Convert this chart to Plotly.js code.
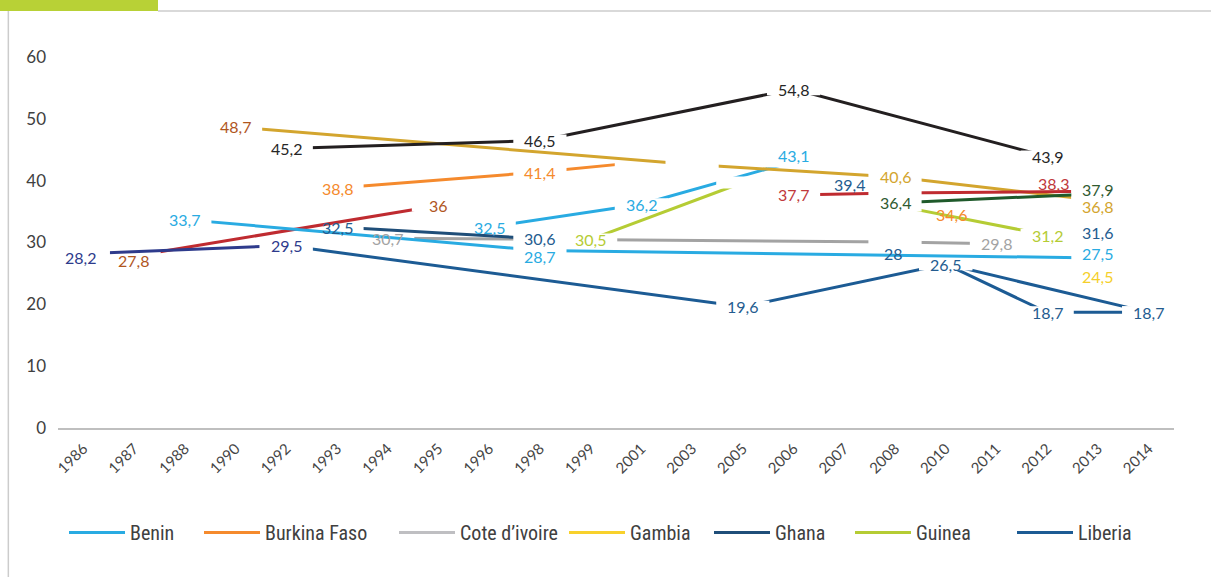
<!DOCTYPE html>
<html>
<head>
<meta charset="utf-8">
<script src="https://cdn.plot.ly/plotly-3.0.1.min.js"></script>
<style>
  html, body { margin: 0; padding: 0; background: #ffffff; }
  #chart { width: 1211px; height: 577px; }
</style>
</head>
<body>
<div id="chart"></div>
<script>
// ---------- DATA ----------
const years = ['1986','1987','1988','1990','1992','1993','1994','1995','1996','1998','1999',
               '2001','2003','2005','2006','2007','2008','2010','2011','2012','2013','2014'];
const yTicks = [0, 10, 20, 30, 40, 50, 60];

// each series: [year, value] pairs
const coteDivoire  = [['1994', 30.7], ['2008', 30.1], ['2011', 29.8]];
const otherBlue    = [['1996', 32.5], ['2001', 36.2], ['2006', 43.1]];
const ghana        = [['1993', 32.5], ['1998', 30.6]];
const guineaA      = [['1999', 30.5], ['2005', 39.7]];
const guineaB      = [['2008', 36.0], ['2012', 31.2]];
const otherRedA    = [['1987', 27.8], ['1995', 36]];
const otherPurple  = [['1986', 28.2], ['1992', 29.5]];
const liberia      = [['1992', 29.5], ['2005', 19.6], ['2010', 26.5], ['2014', 18.7]];
const liberiaB     = [['2010', 26.5], ['2012', 18.7], ['2014', 18.7]];
const benin        = [['1988', 33.7], ['1998', 28.7], ['2013', 27.5]];
const burkinaFaso  = [['1993', 38.8], ['1998', 41.4], ['2001', 43.0]];
const otherGold    = [['1990', 48.7], ['2003', 42.6], ['2008', 40.6], ['2013', 36.8]];
const otherBlack   = [['1992', 45.2], ['1998', 46.5], ['2006', 54.8], ['2012', 43.9]];
const otherRedB    = [['2006', 37.7], ['2008', 38.0], ['2013', 38.3]];
const otherGreen   = [['2008', 36.4], ['2013', 37.9]];
const gambia       = [['2013', 24.5]];
const ghanaPoints  = [['2007', 39.4], ['2008', 28], ['2013', 31.6]];
const burkinaPoint = [['2010', 34.6]];

// points drawn without a value label
const unlabeled = [['guineaA','2005'], ['guineaB','2008'], ['burkinaFaso','2001'], ['otherGold','2003'],
                   ['otherRedB','2008'], ['coteDivoire','2008'], ['liberia','1992'],
                   ['liberiaB','2010'], ['liberiaB','2014']];

// ---------- STYLES ----------
const C = {
  lightBlue: '#29abe2', orange: '#f58a2d', gray: '#a3a3a3', grayLegend: '#bfbfc2',
  yellow: '#f8d12c', ghana: '#1f4e79', guinea: '#b5cc34', liberia: '#1c5b94',
  navyLabel: '#245c8f', purple: '#2e3b8c', red: '#bf2b30', brown: '#b0561e',
  gold: '#d3a52e', black: '#231f20', green: '#1f5a2b', redLabel: '#c0393b', greenLabel: '#2f5a30'
};

// drawing order matters: white point masks hide earlier lines
const series = [
  {key:'coteDivoire', data:coteDivoire, line:C.gray,      label:C.gray},
  {key:'otherBlue',   data:otherBlue,   line:C.lightBlue, label:C.lightBlue},
  {key:'ghana',       data:ghana,       line:C.ghana,     label:C.navyLabel},
  {key:'guineaA',     data:guineaA,     line:C.guinea,    label:C.guinea},
  {key:'guineaB',     data:guineaB,     line:C.guinea,    label:C.guinea},
  {key:'otherRedA',   data:otherRedA,   line:C.red,       label:C.brown},
  {key:'otherPurple', data:otherPurple, line:C.purple,    label:C.purple},
  {key:'liberia',     data:liberia,     line:C.liberia,   label:C.navyLabel},
  {key:'liberiaB',    data:liberiaB,    line:C.liberia,   label:C.navyLabel},
  {key:'benin',       data:benin,       line:C.lightBlue, label:C.lightBlue},
  {key:'burkinaFaso', data:burkinaFaso, line:C.orange,    label:C.orange},
  {key:'otherGold',   data:otherGold,   line:C.gold,      label:C.gold},
  {key:'otherBlack',  data:otherBlack,  line:C.black,     label:'#262626'},
  {key:'otherRedB',   data:otherRedB,   line:C.red,       label:C.redLabel},
  {key:'otherGreen',  data:otherGreen,  line:C.green,     label:C.greenLabel},
  {key:'gambia',      data:gambia,      line:null,        label:'#f5cf2a'},
  {key:'ghanaPoints', data:ghanaPoints, line:null,        label:C.navyLabel},
  {key:'burkinaPoint',data:burkinaPoint,line:null,        label:C.orange}
];

// label colour / offset exceptions (styling only)
const labelColor = {'otherGold|1990': C.brown};
const labelShift = {
  'otherPurple|1986': [-3, -4], 'otherRedA|1987': [-1, -4], 'benin|1998': [0, -6],
  'otherBlue|2006': [0, 6], 'burkinaPoint|2010': [6, 0], 'otherRedB|2013': [-44, 8],
  'benin|2013': [0, 4], 'otherGold|2013': [0, -6], 'otherGreen|2013': [0, 4],
  'ghanaPoints|2007': [5, 0], 'ghanaPoints|2008': [-2, 1]
};

const legendItems = [
  ['Benin', C.lightBlue], ['Burkina Faso', C.orange], ['Cote d\u2019ivoire', C.grayLegend],
  ['Gambia', C.yellow], ['Ghana', C.ghana], ['Guinea', C.guinea], ['Liberia', C.liberia]
];
// pixel left edge of each legend entry (layout only)
const legendLeft = [64, 199, 394, 564, 709, 850, 1012];

// ---------- BUILD ----------
const traces = [];
const annotations = [];
const fmt = v => String(v).replace('.', ',');
const isUnlabeled = (k, y) => unlabeled.some(p => p[0] === k && p[1] === y);
const idx = y => years.indexOf(y);

series.forEach(s => {
  const xs = s.data.map(p => p[0]);
  const ys = s.data.map(p => p[1]);
  if (s.line) {
    traces.push({
      type: 'scatter', mode: 'lines', x: xs, y: ys, showlegend: false, hoverinfo: 'skip',
      line: {color: s.line, width: 3}
    });
    traces.push({
      type: 'scatter', mode: 'markers', x: xs, y: ys, showlegend: false, hoverinfo: 'skip',
      marker: {symbol: 'line-ew', size: 38, color: '#ffffff', line: {color: '#ffffff', width: 12}}
    });
  }
  s.data.forEach(p => {
    if (isUnlabeled(s.key, p[0])) return;
    const id = s.key + '|' + p[0];
    const sh = labelShift[id] || [0, 0];
    annotations.push({
      x: idx(p[0]), y: p[1], xref: 'x', yref: 'y', text: fmt(p[1]), showarrow: false,
      xanchor: 'center', yanchor: 'middle', xshift: sh[0], yshift: sh[1],
      font: {family: 'Lato, "Open Sans", sans-serif', size: 16, color: labelColor[id] || s.label}
    });
  });
});

const plotL = 58, plotW = 1211 - 58 - 37;
const layout = {
  width: 1211, height: 577,
  margin: {l: 58, r: 37, t: 57, b: 149},
  paper_bgcolor: '#ffffff', plot_bgcolor: '#ffffff',
  showlegend: true,
  xaxis: {
    type: 'category', categoryorder: 'array', categoryarray: years,
    range: [-0.5, years.length - 0.5],
    showgrid: false, zeroline: false, showline: true, linecolor: '#bfbfbf', linewidth: 2,
    ticks: '', tickangle: -45, ticklabelstandoff: 4,
    tickfont: {family: 'Lato, "Open Sans", sans-serif', size: 15, color: '#454545'},
    fixedrange: true
  },
  yaxis: {
    range: [0, 60], tickvals: yTicks, showgrid: false, zeroline: false, showline: false,
    ticks: '', ticklabelstandoff: 11,
    tickfont: {family: 'Lato, "Open Sans", sans-serif', size: 17, color: '#404040'},
    fixedrange: true
  },
  annotations: annotations,
  shapes: [
    {type: 'rect', xref: 'paper', yref: 'paper', x0: -0.06, x1: 0.0896, y0: 1.124, y1: 1.2,
     fillcolor: '#b8d136', line: {width: 0}, layer: 'below'},
    {type: 'line', xref: 'paper', yref: 'paper', x0: 0.0896, x1: 1.04, y0: 1.124, y1: 1.124,
     line: {color: '#cccccc', width: 1.5}},
    {type: 'line', xref: 'paper', yref: 'paper', x0: -0.0445, x1: -0.0445, y0: 1.124, y1: -0.42,
     line: {color: '#cccccc', width: 1.5}}
  ]
};

legendItems.forEach((it, i) => {
  const lname = i === 0 ? 'legend' : 'legend' + (i + 1);
  traces.push({
    type: 'scatter', mode: 'lines', x: [null], y: [null], name: it[0], legend: lname,
    line: {color: it[1], width: 3}, showlegend: true, hoverinfo: 'skip'
  });
  layout[lname] = {
    orientation: 'h', x: (legendLeft[i] - plotL) / plotW, xanchor: 'left',
    y: -0.282, yanchor: 'middle', itemwidth: 56, bgcolor: 'rgba(0,0,0,0)',
    font: {family: '"Liberation Sans Narrow", "Roboto Condensed", Lato, sans-serif', size: 20, color: '#404040'}
  };
});

Plotly.newPlot('chart', traces, layout, {displayModeBar: false, staticPlot: true});
</script>
</body>
</html>
